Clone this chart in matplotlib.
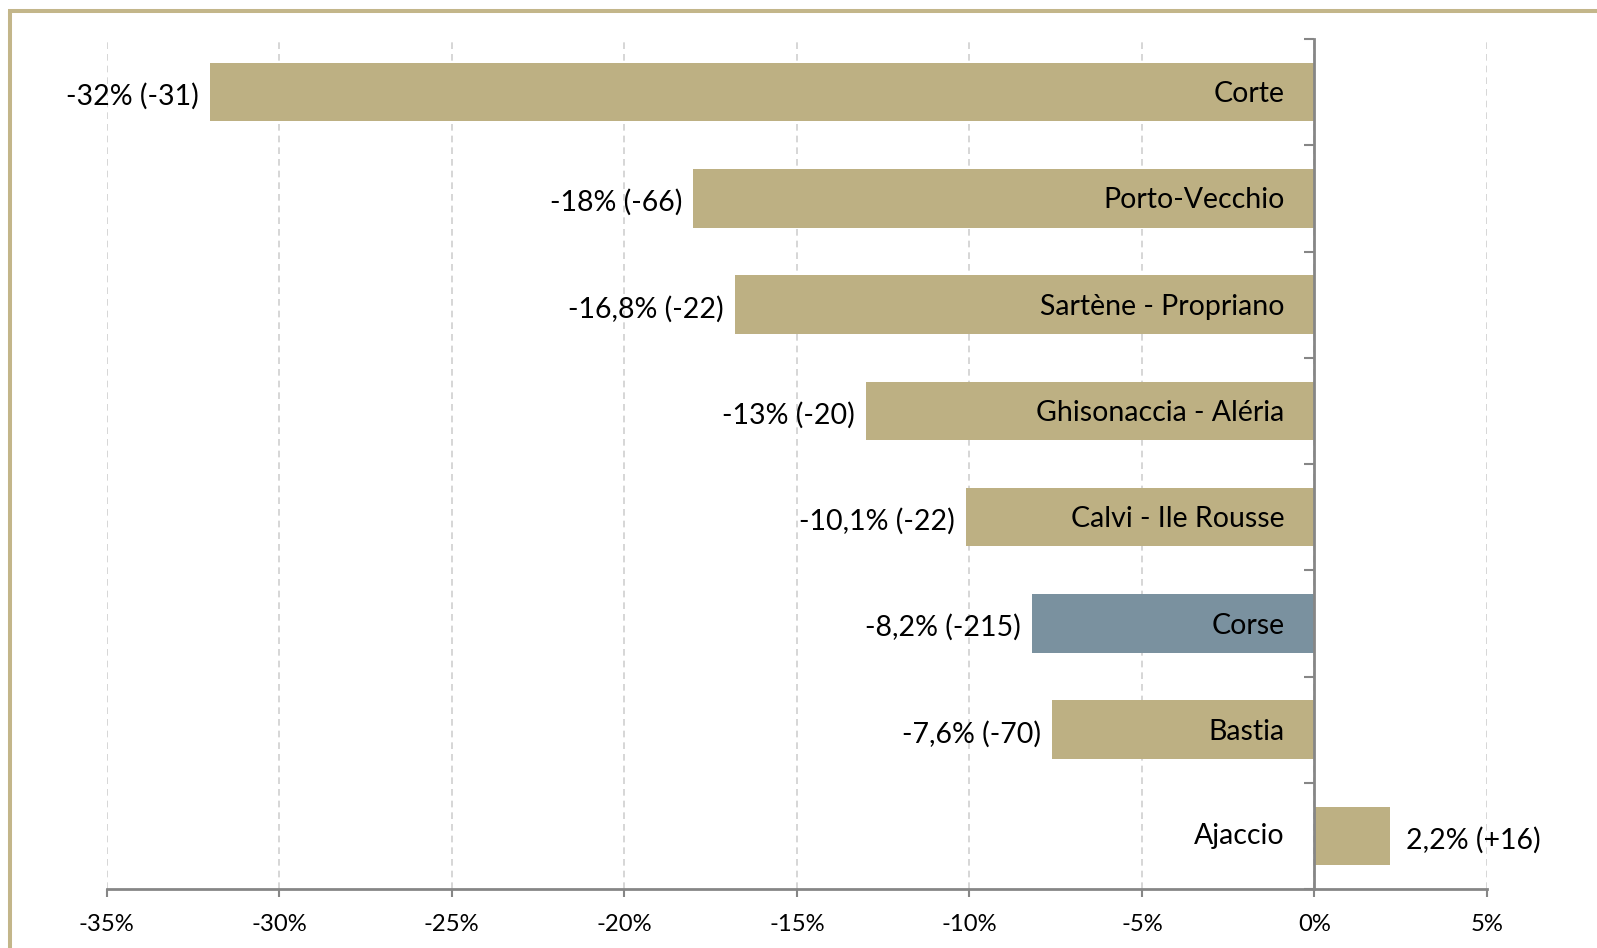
import matplotlib
matplotlib.use("Agg")
import matplotlib.pyplot as plt
from matplotlib.lines import Line2D
import numpy as np

plt.rcParams['font.family'] = ['Lato', 'DejaVu Sans']

categories = ["Corte", "Porto-Vecchio", "Sartène - Propriano", "Ghisonaccia - Aléria",
              "Calvi - Ile Rousse", "Corse", "Bastia", "Ajaccio"]
values = [-32, -18, -16.8, -13, -10.1, -8.2, -7.6, 2.2]
value_labels = ["-32% (-31)", "-18% (-66)", "-16,8% (-22)", "-13% (-20)",
                "-10,1% (-22)", "-8,2% (-215)", "-7,6% (-70)", "2,2% (+16)"]
xticks = [-35, -30, -25, -20, -15, -10, -5, 0, 5]
xtick_labels = ["-35%", "-30%", "-25%", "-20%", "-15%", "-10%", "-5%", "0%", "5%"]

GOLD = "#BDB083"
BLUE = "#7A919F"
AXC = "#868686"

W, H = 1597, 948
fig = plt.figure(figsize=(W/100, H/100), dpi=100)
ax = fig.add_axes([106.7/W, 1 - 889/H, (1487-106.7)/W, (889-39)/H])

y = np.arange(len(categories))
colors = [BLUE if c == "Corse" else GOLD for c in categories]
ax.barh(y, values, height=0.55, color=colors, zorder=3)

ax.set_xlim(-35, 5)
ax.set_ylim(len(categories) - 0.5, -0.5)
ax.set_xticks(xticks)
ax.set_xticklabels(xtick_labels, fontsize=17.2)
ax.xaxis.grid(True, color="#CFCFCF", linestyle=(0, (4, 3)), linewidth=1.2, zorder=0)

ax.spines['top'].set_visible(False)
ax.spines['right'].set_visible(False)
ax.spines['left'].set_position(('data', 0))
ax.spines['left'].set_color(AXC)
ax.spines['left'].set_linewidth(2)
ax.spines['left'].set_zorder(4)
ax.spines['bottom'].set_color(AXC)
ax.spines['bottom'].set_linewidth(2)
ax.set_yticks(np.arange(len(categories) + 1) - 0.5)
ax.set_yticklabels([])
ax.tick_params(axis='y', direction='out', length=7, width=1.5, color=AXC)
ax.tick_params(axis='x', direction='out', length=6, width=1.5, color=AXC, pad=12)

FS = 20.5
px = 40.0 / (1487 - 106.7)  # data units per pixel
for yi, v, lab, cat in zip(y, values, value_labels, categories):
    if v < 0:
        ax.text(v - 11 * px, yi + 0.04, lab, ha='right', va='center', fontsize=FS, color='black', zorder=5)
        ax.text(-30 * px, yi + 0.02, cat, ha='right', va='center', fontsize=FS, color='black', zorder=5)
    else:
        ax.text(v + 16 * px, yi + 0.04, lab, ha='left', va='center', fontsize=FS, color='black', zorder=5)
        ax.text(-30 * px, yi + 0.0, cat, ha='right', va='center', fontsize=FS, color='black', zorder=5)

# outer frame
fig.add_artist(Line2D([10/W, 10/W], [0, 1 - 11/H], transform=fig.transFigure, color="#C3B68A", linewidth=2.9, solid_capstyle='butt'))
fig.add_artist(Line2D([8/W, 1], [1 - 11/H, 1 - 11/H], transform=fig.transFigure, color="#C3B68A", linewidth=2.9, solid_capstyle='butt'))

fig.savefig("out.png", dpi=100)
